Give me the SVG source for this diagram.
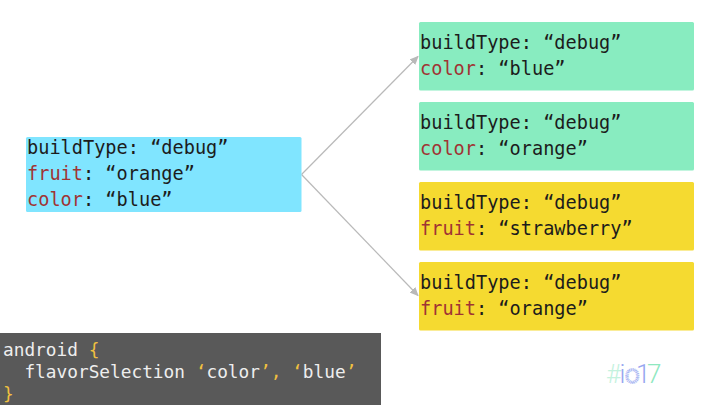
<svg xmlns="http://www.w3.org/2000/svg" width="720" height="405" viewBox="0 0 720 405">
<style>
text{font-family:"DejaVu Sans Mono","Liberation Mono",monospace;white-space:pre}
.t{font-size:18.6px;fill:#1c1c1c}
.k{fill:#a03434}
.c{font-size:17.8px;fill:#eeeeee}
.y{fill:#f0c040}
.g{fill:#88ecc0}
.o{fill:#f5da30}
.conn{fill:none;stroke:#b9b9b9;stroke-width:1.200;marker-end:url(#a)}
</style>
<defs><marker id="a" markerUnits="userSpaceOnUse" markerWidth="10" markerHeight="10" refX="8" refY="4" orient="auto"><path d="M0 0L9 4L0 8Z" fill="#b9b9b9"/></marker></defs>
<rect width="720" height="405" fill="#fff"/>
<g id="connectors">
<path class="conn" d="M301.500 174.500L418 56.500"/>
<path class="conn" d="M301.500 174.500L418 295.500"/>
</g>
<g id="source"><rect x="26" y="137" width="275.500" height="75" rx="1.500" fill="#80e5ff"/>
<text class="t" x="27" y="154">buildType: “debug”</text>
<text class="t" x="27" y="180"><tspan class="k">fruit</tspan>: “orange”</text>
<text class="t" x="27" y="206"><tspan class="k">color</tspan>: “blue”</text></g>
<g id="blue-variant"><rect class="g" x="419" y="22" width="275" height="68.500" rx="1.500"/>
<text class="t" x="420" y="48.500">buildType: “debug”</text>
<text class="t" x="420" y="74.500"><tspan class="k">color</tspan>: “blue”</text></g>
<g id="orange-variant"><rect class="g" x="419" y="102" width="275" height="68.500" rx="1.500"/>
<text class="t" x="420" y="128.500">buildType: “debug”</text>
<text class="t" x="420" y="154.500"><tspan class="k">color</tspan>: “orange”</text></g>
<g id="strawberry-variant"><rect class="o" x="419" y="182" width="275" height="68.500" rx="1.500"/>
<text class="t" x="420" y="208.500">buildType: “debug”</text>
<text class="t" x="420" y="234.500"><tspan class="k">fruit</tspan>: “strawberry”</text></g>
<g id="fruit-orange-variant"><rect class="o" x="419" y="262" width="275" height="68.500" rx="1.500"/>
<text class="t" x="420" y="288.500">buildType: “debug”</text>
<text class="t" x="420" y="314.500"><tspan class="k">fruit</tspan>: “orange”</text></g>
<g id="code"><rect x="0" y="333" width="381" height="72" fill="#595959"/>
<text class="c" x="3" y="356">android <tspan class="y">{</tspan></text>
<text class="c" x="3" y="378">  flavorSelection <tspan class="y">‘</tspan>color<tspan class="y">’,</tspan> <tspan class="y">‘</tspan>blue<tspan class="y">’</tspan></text>
<text class="c y" x="3" y="400">}</text></g>
<g id="logo"><text x="606 619.500 625 636 647" y="383" font-size="26" style="font-family:Roboto,sans-serif;font-weight:300"><tspan fill="#c4f2de">#</tspan><tspan fill="#97a6f0">i</tspan><tspan fill="none" stroke="#a9b6f2" stroke-width="1.800" stroke-dasharray="1 .8">o</tspan><tspan fill="#97a6f0">1</tspan><tspan fill="#8fe8c0">7</tspan></text></g>
</svg>
